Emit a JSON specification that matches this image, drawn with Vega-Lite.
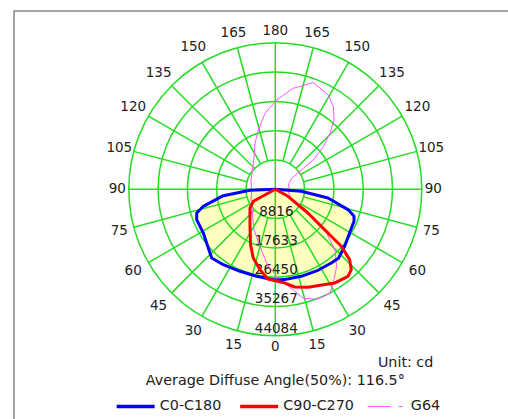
{
  "$schema": "https://vega.github.io/schema/vega-lite/v6.json",
  "width": 496,
  "height": 410,
  "autosize": {"type": "none"},
  "padding": {"left": 14, "top": 11, "right": -2, "bottom": -2},
  "background": "white",
  "config": {"view": {"stroke": "#888888", "strokeWidth": 1.5}, "text": {"font": "DejaVu Sans"}},
  "datasets": {
    "curves": [
      {"s": "G64", "t": -180, "cd": 26420},
      {"s": "G64", "t": -172.3, "cd": 23080},
      {"s": "G64", "t": -164, "cd": 18570},
      {"s": "G64", "t": -156.2, "cd": 15130},
      {"s": "G64", "t": -146.9, "cd": 11740},
      {"s": "G64", "t": -130.4, "cd": 8970},
      {"s": "G64", "t": -110.9, "cd": 7830},
      {"s": "G64", "t": -88.3, "cd": 7130},
      {"s": "G64", "t": -66.2, "cd": 8000},
      {"s": "G64", "t": -56.5, "cd": 8550},
      {"s": "G64", "t": -27.6, "cd": 13810},
      {"s": "G64", "t": -14.9, "cd": 17840},
      {"s": "G64", "t": -6, "cd": 22900},
      {"s": "G64", "t": 3, "cd": 27320},
      {"s": "G64", "t": 10.1, "cd": 30780},
      {"s": "G64", "t": 14.4, "cd": 33860},
      {"s": "G64", "t": 20.6, "cd": 35360},
      {"s": "G64", "t": 24.1, "cd": 35360},
      {"s": "G64", "t": 27.7, "cd": 35360},
      {"s": "G64", "t": 32.9, "cd": 32500},
      {"s": "G64", "t": 38.4, "cd": 29700},
      {"s": "G64", "t": 44.5, "cd": 25610},
      {"s": "G64", "t": 49.4, "cd": 20340},
      {"s": "G64", "t": 51.8, "cd": 13300},
      {"s": "G64", "t": 56.7, "cd": 5870},
      {"s": "G64", "t": 86.7, "cd": 3700},
      {"s": "G64", "t": 94, "cd": 4210},
      {"s": "G64", "t": 108.3, "cd": 4120},
      {"s": "G64", "t": 124, "cd": 5930},
      {"s": "G64", "t": 126.5, "cd": 9420},
      {"s": "G64", "t": 127.6, "cd": 14440},
      {"s": "G64", "t": 131.6, "cd": 19320},
      {"s": "G64", "t": 135.7, "cd": 23560},
      {"s": "G64", "t": 139.7, "cd": 27320},
      {"s": "G64", "t": 144.9, "cd": 30390},
      {"s": "G64", "t": 150.7, "cd": 32560},
      {"s": "G64", "t": 160.4, "cd": 34090},
      {"s": "G64", "t": 169.9, "cd": 30870},
      {"s": "G64", "t": 179.2, "cd": 26870},
      {"s": "G64", "t": 180, "cd": 26420},
      {"s": "C0-C180", "t": -90, "cd": 0},
      {"s": "C0-C180", "t": -87.7, "cd": 7620},
      {"s": "C0-C180", "t": -83, "cd": 15770},
      {"s": "C0-C180", "t": -76.7, "cd": 22260},
      {"s": "C0-C180", "t": -73.2, "cd": 24700},
      {"s": "C0-C180", "t": -68.9, "cd": 25360},
      {"s": "C0-C180", "t": -58.7, "cd": 25340},
      {"s": "C0-C180", "t": -48.8, "cd": 26800},
      {"s": "C0-C180", "t": -42.8, "cd": 28170},
      {"s": "C0-C180", "t": -34.6, "cd": 27560},
      {"s": "C0-C180", "t": -23.3, "cd": 26860},
      {"s": "C0-C180", "t": -12.1, "cd": 26770},
      {"s": "C0-C180", "t": -3.4, "cd": 27040},
      {"s": "C0-C180", "t": 0, "cd": 27290},
      {"s": "C0-C180", "t": 5.9, "cd": 27320},
      {"s": "C0-C180", "t": 16.6, "cd": 27320},
      {"s": "C0-C180", "t": 27.8, "cd": 27550},
      {"s": "C0-C180", "t": 37.2, "cd": 27850},
      {"s": "C0-C180", "t": 42.7, "cd": 28110},
      {"s": "C0-C180", "t": 50.6, "cd": 27000},
      {"s": "C0-C180", "t": 59.5, "cd": 25940},
      {"s": "C0-C180", "t": 67.9, "cd": 25570},
      {"s": "C0-C180", "t": 71.1, "cd": 25040},
      {"s": "C0-C180", "t": 74.4, "cd": 22710},
      {"s": "C0-C180", "t": 80.6, "cd": 16070},
      {"s": "C0-C180", "t": 85.6, "cd": 7850},
      {"s": "C0-C180", "t": 90, "cd": 0},
      {"s": "C90-C270", "t": -90, "cd": 0},
      {"s": "C90-C270", "t": -61.4, "cd": 7540},
      {"s": "C90-C270", "t": -53.5, "cd": 9470},
      {"s": "C90-C270", "t": -34.4, "cd": 13490},
      {"s": "C90-C270", "t": -24.1, "cd": 18230},
      {"s": "C90-C270", "t": -17.8, "cd": 21700},
      {"s": "C90-C270", "t": -10.8, "cd": 24600},
      {"s": "C90-C270", "t": -4.7, "cd": 27080},
      {"s": "C90-C270", "t": 5.9, "cd": 28350},
      {"s": "C90-C270", "t": 11.2, "cd": 29970},
      {"s": "C90-C270", "t": 18.4, "cd": 31080},
      {"s": "C90-C270", "t": 32.3, "cd": 33370},
      {"s": "C90-C270", "t": 39.9, "cd": 34120},
      {"s": "C90-C270", "t": 43.4, "cd": 33270},
      {"s": "C90-C270", "t": 46.6, "cd": 30780},
      {"s": "C90-C270", "t": 49.2, "cd": 26240},
      {"s": "C90-C270", "t": 50.3, "cd": 20600},
      {"s": "C90-C270", "t": 54.1, "cd": 12150},
      {"s": "C90-C270", "t": 61.1, "cd": 4360},
      {"s": "C90-C270", "t": 90, "cd": 0}
    ],
    "rings": [{"r": 8816}, {"r": 17633}, {"r": 26450}, {"r": 35267}, {"r": 44084}],
    "spokes": [
      {"t": 0}, {"t": 15}, {"t": 30}, {"t": 45}, {"t": 60}, {"t": 75}, {"t": 90}, {"t": 105},
      {"t": 120}, {"t": 135}, {"t": 150}, {"t": 165}, {"t": 180}, {"t": 195}, {"t": 210}, {"t": 225},
      {"t": 240}, {"t": 255}, {"t": 270}, {"t": 285}, {"t": 300}, {"t": 315}, {"t": 330}, {"t": 345}
    ],
    "angles": [
      {"t": 0}, {"t": 15}, {"t": 30}, {"t": 45}, {"t": 60}, {"t": 75}, {"t": 90}, {"t": 105},
      {"t": 120}, {"t": 135}, {"t": 150}, {"t": 165}, {"t": 180},
      {"t": -15}, {"t": -30}, {"t": -45}, {"t": -60}, {"t": -75}, {"t": -90}, {"t": -105},
      {"t": -120}, {"t": -135}, {"t": -150}, {"t": -165}
    ],
    "notes": [
      {"note": "Unit: cd"},
      {"note": "Average Diffuse Angle(50%): 116.5°"}
    ]
  },
  "encoding": {
    "x": {"field": "x", "type": "quantitative", "scale": {"domain": [-78629, 70625], "nice": false, "zero": false}, "axis": null},
    "y": {"field": "y", "type": "quantitative", "scale": {"domain": [-69722, 53653], "nice": false, "zero": false}, "axis": null}
  },
  "layer": [
    {
      "data": {"name": "curves"},
      "transform": [
        {"filter": "datum.s !== 'G64'"},
        {"calculate": "datum.cd*sin(datum.t*PI/180)", "as": "x"},
        {"calculate": "-datum.cd*cos(datum.t*PI/180)", "as": "y"}
      ],
      "mark": {"type": "line", "fill": "#ffffc0", "stroke": "transparent", "strokeWidth": 0},
      "encoding": {"detail": {"field": "s", "type": "nominal"}, "order": {"field": "t", "type": "quantitative"}}
    },
    {
      "data": {"name": "rings"},
      "transform": [{"calculate": "0", "as": "x"}, {"calculate": "0", "as": "y"}],
      "mark": {"type": "point", "shape": "circle", "filled": false, "stroke": "#22dd22", "strokeWidth": 1.5, "opacity": 1},
      "encoding": {"size": {"field": "r", "type": "quantitative", "scale": {"type": "pow", "exponent": 2, "domain": [0, 44084], "range": [0, 85849]}, "legend": null}}
    },
    {
      "data": {"name": "spokes"},
      "transform": [
        {"calculate": "datum.t % 90 === 0 ? 0 : 8816", "as": "r0"},
        {"calculate": "datum.r0*sin(datum.t*PI/180)", "as": "x"},
        {"calculate": "-datum.r0*cos(datum.t*PI/180)", "as": "y"},
        {"calculate": "44084*sin(datum.t*PI/180)", "as": "x2"},
        {"calculate": "-44084*cos(datum.t*PI/180)", "as": "y2"}
      ],
      "mark": {"type": "rule", "stroke": "#22dd22", "strokeWidth": 1.5},
      "encoding": {"x2": {"field": "x2"}, "y2": {"field": "y2"}}
    },
    {
      "data": {"name": "rings"},
      "transform": [{"calculate": "0", "as": "x"}, {"calculate": "-datum.r", "as": "y"}],
      "mark": {"type": "text", "fontSize": 13.5, "fill": "#222222", "align": "center", "baseline": "alphabetic", "dy": -3, "dx": 1},
      "encoding": {"text": {"field": "r", "type": "quantitative", "format": "d"}}
    },
    {
      "data": {"name": "angles"},
      "transform": [
        {"calculate": "abs(datum.t)", "as": "lab"},
        {"calculate": "300.915*(158+7*abs(sin(2*datum.t*PI/180)))", "as": "R"},
        {"calculate": "datum.R*sin(datum.t*PI/180)", "as": "x"},
        {"calculate": "-datum.R*cos(datum.t*PI/180)", "as": "y"}
      ],
      "mark": {"type": "text", "fontSize": 13.5, "fill": "#222222", "align": "center", "baseline": "middle"},
      "encoding": {"text": {"field": "lab", "type": "quantitative", "format": "d"}}
    },
    {
      "data": {"name": "curves"},
      "transform": [
        {"calculate": "datum.cd*sin(datum.t*PI/180)", "as": "x"},
        {"calculate": "-datum.cd*cos(datum.t*PI/180)", "as": "y"}
      ],
      "mark": {"type": "line", "strokeJoin": "round"},
      "encoding": {
        "color": {
          "field": "s", "type": "nominal",
          "scale": {"domain": ["C0-C180", "C90-C270", "G64"], "range": ["#0000ff", "#ff0000", "#ff55ff"]},
          "legend": {
            "orient": "none", "legendX": 114.5, "legendY": 388, "direction": "horizontal", "title": null,
            "symbolType": "stroke", "symbolSize": 1444, "labelFont": "DejaVu Sans", "labelFontSize": 14.3,
            "labelColor": "#222222", "labelOffset": 17, "columnPadding": 11.5,
            "encode": {"symbols": {"update": {
              "strokeWidth": {"signal": "datum.value === 'G64' ? 1 : 3.5"},
              "strokeDash": {"signal": "datum.value === 'G64' ? [23, 8, 4, 8] : [1, 0]"}
            }}}
          }
        },
        "strokeWidth": {"condition": {"test": "datum.s === 'G64'", "value": 1}, "value": 3},
        "order": {"field": "t", "type": "quantitative"}
      }
    },
    {
      "data": {"name": "notes"},
      "transform": [
        {"filter": "datum.note === 'Unit: cd'"},
        {"calculate": "47545", "as": "x"},
        {"calculate": "-52359", "as": "y"}
      ],
      "mark": {"type": "text", "align": "right", "baseline": "middle", "fontSize": 14.3, "fill": "#222222"},
      "encoding": {"text": {"field": "note", "type": "nominal"}}
    },
    {
      "data": {"name": "notes"},
      "transform": [
        {"filter": "datum.note !== 'Unit: cd'"},
        {"calculate": "0", "as": "x"},
        {"calculate": "-57685", "as": "y"}
      ],
      "mark": {"type": "text", "align": "center", "baseline": "middle", "fontSize": 14.3, "fill": "#222222"},
      "encoding": {"text": {"field": "note", "type": "nominal"}}
    }
  ]
}
